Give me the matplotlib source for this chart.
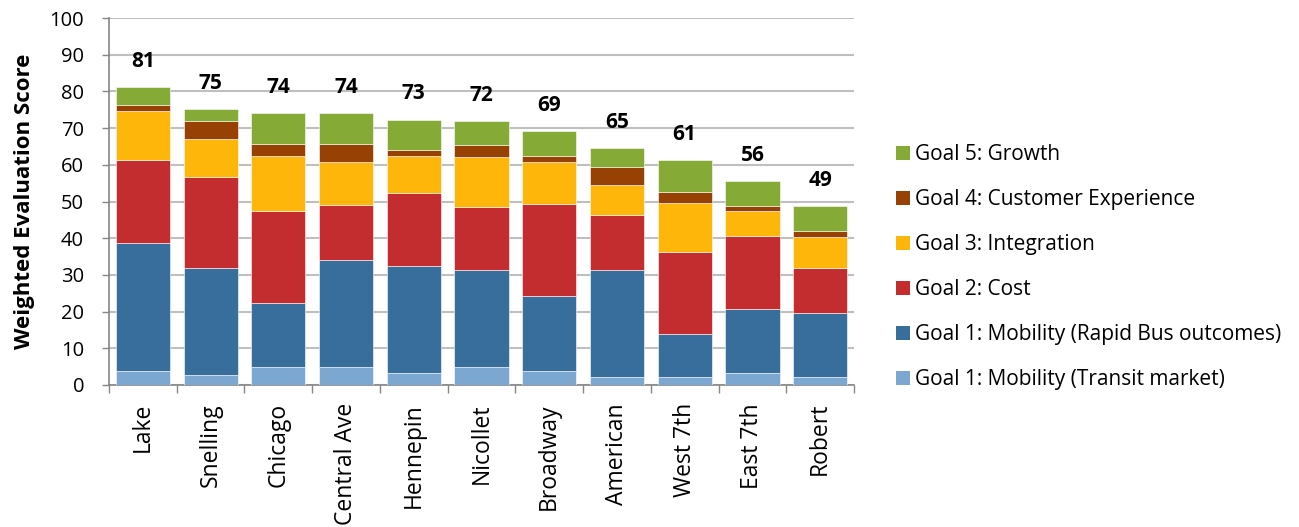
import matplotlib
matplotlib.use("Agg")
import matplotlib.pyplot as plt
import numpy as np
from matplotlib.patches import Patch

categories = ["Lake", "Snelling", "Chicago", "Central Ave", "Hennepin", "Nicollet",
              "Broadway", "American", "West 7th", "East 7th", "Robert"]
transit_market = [3.8, 2.8, 4.9, 4.9, 3.4, 4.9, 3.8, 2.2, 2.2, 3.4, 2.2]
rapid_bus = [35.0, 29.0, 17.4, 29.1, 29.0, 26.3, 20.4, 29.1, 11.6, 17.3, 17.3]
cost = [22.4, 25.0, 25.1, 15.0, 20.0, 17.4, 25.0, 14.9, 22.4, 19.9, 12.5]
integration = [13.4, 10.1, 15.1, 11.7, 10.1, 13.4, 11.6, 8.4, 13.3, 6.8, 8.4]
customer = [1.6, 5.0, 3.2, 5.0, 1.5, 3.3, 1.7, 4.9, 3.2, 1.5, 1.6]
growth = [5.0, 3.2, 8.3, 8.3, 8.3, 6.7, 6.7, 5.0, 8.5, 6.7, 6.7]
totals = [81, 75, 74, 74, 73, 72, 69, 65, 61, 56, 49]

series_names = ["Goal 1: Mobility (Transit market)", "Goal 1: Mobility (Rapid Bus outcomes)",
                "Goal 2: Cost", "Goal 3: Integration", "Goal 4: Customer Experience",
                "Goal 5: Growth"]
series = [transit_market, rapid_bus, cost, integration, customer, growth]
colors = ["#7BA7D1", "#386E9C", "#C32D2F", "#FFB60B", "#974104", "#86AA36"]

plt.rcParams['font.family'] = ['Open Sans', 'DejaVu Sans']

fig = plt.figure(figsize=(12.99, 5.27), dpi=100)
ax = fig.add_axes([109/1299, 1-385/527, (854-109)/1299, (385-18)/527])

x = np.arange(len(categories))
bottom = np.zeros(len(categories))
handles = []
for name, vals, c in zip(series_names, series, colors):
    vals = np.array(vals)
    ax.bar(x, vals, 0.8, bottom=bottom, color=c, edgecolor='white', linewidth=0.4, zorder=3)
    bottom += vals
    handles.append(Patch(facecolor=c, label=name))

for xi, top, t in zip(x, bottom, totals):
    ax.text(xi, top + 7, str(t), ha='center', va='center', fontsize=15, fontweight='bold')

ax.set_xlim(-0.5, len(categories) - 0.5)
ax.set_ylim(0, 100)
ax.set_yticks(np.arange(0, 101, 10))
ax.tick_params(axis='y', labelsize=14.5, length=5, width=1, color='#868686', pad=13)
ax.set_xticks(x)
ax.set_xticklabels(categories, rotation=90, fontsize=16.5)
ax.tick_params(axis='x', which='major', length=0, pad=13)
ax.set_xticks(np.arange(-0.5, len(categories), 1), minor=True)
ax.tick_params(axis='x', which='minor', length=6, width=1, color='#868686')
ax.yaxis.grid(True, color='#BFBFBF', linewidth=1.5, zorder=0)
ax.set_axisbelow(True)
for s in ['top', 'right']:
    ax.spines[s].set_visible(False)
for s in ['left', 'bottom']:
    ax.spines[s].set_color('#868686')
    ax.spines[s].set_linewidth(1.2)
ax.set_ylabel("Weighted Evaluation Score", fontsize=16, fontweight='bold', labelpad=10)

fig.legend(handles=handles[::-1], loc='center left', bbox_to_anchor=(896/1299, 1-267/527),
           frameon=False, fontsize=15, handlelength=0.67, handleheight=0.67,
           labelspacing=1.15, handletextpad=0.25, borderpad=0, borderaxespad=0)

fig.savefig("out.png", dpi=100)
